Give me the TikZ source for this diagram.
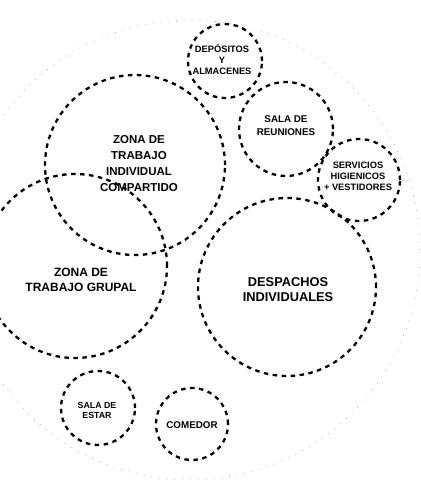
\documentclass[tikz,border=0pt]{standalone}
\usepackage{fontspec}
\setmainfont{Liberation Sans}
\begin{document}
\begin{tikzpicture}[x=1pt,y=-1pt,
  zona/.style={line width=2.3pt,dash pattern=on 4.5pt off 4.5pt},
  rotulo/.style={align=center,inner sep=0pt,font=\bfseries}]
  \useasboundingbox (0,0) rectangle (421,480);
  \clip (0,0) rectangle (421,480);
  % contorno general, punteado tenue
  \draw[gray!60,line width=0.8pt,dash pattern=on 0.8pt off 7pt] (190,250) circle (230pt);
  % areas
  \draw[zona] (225,61) circle (37pt);
  \draw[zona] (286,129) circle (47pt);
  \draw[zona] (359,180) circle (41pt);
  \draw[zona] (135,165) circle (90pt);
  \draw[zona] (75,266) circle (92pt);
  \draw[zona] (287,287) circle (89pt);
  \draw[zona] (98,408) circle (37pt);
  \draw[zona] (192,424) circle (36pt);
  % rotulos
  \node[rotulo,font=\bfseries\fontsize{9.3}{11}\selectfont] (depositos) at (222,59) {DEPÓSITOS\\Y\\ALMACENES};
  \node[rotulo,font=\bfseries\fontsize{9.8}{13}\selectfont] (reuniones) at (286,126) {SALA DE\\REUNIONES};
  \node[rotulo,font=\bfseries\fontsize{9.3}{11}\selectfont] (servicios) at (358,176) {SERVICIOS\\HIGIENICOS\\+ VESTIDORES};
  \node[rotulo,font=\bfseries\fontsize{11.5}{16}\selectfont] (individual) at (139,164) {ZONA DE\\TRABAJO\\INDIVIDUAL\\COMPARTIDO};
  \node[rotulo,font=\bfseries\fontsize{12}{15}\selectfont] (grupal) at (81,280) {ZONA DE\\TRABAJO GRUPAL};
  \node[rotulo,font=\bfseries\fontsize{12.8}{15}\selectfont] (despachos) at (288,290) {DESPACHOS\\INDIVIDUALES};
  \node[rotulo,font=\bfseries\fontsize{8.8}{10}\selectfont] (estar) at (97,410) {SALA DE\\ESTAR};
  \node[rotulo,font=\bfseries\fontsize{9.8}{11}\selectfont] (comedor) at (192,425) {COMEDOR};
\end{tikzpicture}
\end{document}
